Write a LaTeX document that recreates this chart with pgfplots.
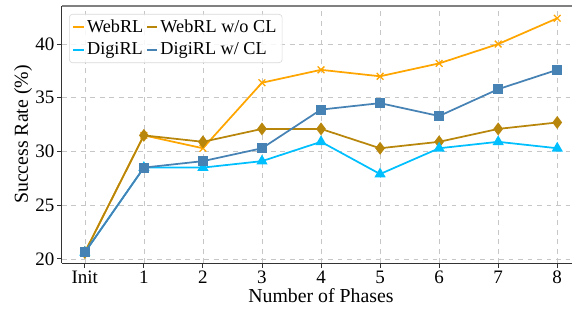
\documentclass[border=0pt]{standalone}
\usepackage{fontspec}
\setmainfont{Liberation Serif}
\usepackage{pgfplots}
\pgfplotsset{compat=1.18}
\definecolor{cWeb}{HTML}{FFA500}
\definecolor{cWebNo}{HTML}{B8860B}
\definecolor{cDigi}{HTML}{00BFFF}
\definecolor{cDigiCL}{HTML}{4682B4}
\begin{document}
\begin{tikzpicture}
\begin{axis}[
  scale only axis,
  width=322pt, height=162.5pt,
  xmin=-0.39, xmax=8.25,
  ymin=19.6, ymax=43.57,
  xtick={0,1,2,3,4,5,6,7,8},
  xticklabels={Init,1,2,3,4,5,6,7,8},
  ytick={20,25,30,35,40},
  /pgf/number format/assume math mode=true,
  tick label style={font=\fontsize{12}{14}\selectfont},
  xticklabel style={inner ysep=1.5pt},
  yticklabel style={inner xsep=1.5pt},
  label style={font=\fontsize{12.5}{14}\selectfont},
  xlabel={Number of Phases},
  ylabel={Success Rate (\%)},
  xlabel style={at={(rel axis cs:0.508,0)}, anchor=base, yshift=-25pt, inner sep=0pt},
  ylabel style={at={(rel axis cs:0,0.5)}, anchor=north, yshift=30.3pt, inner sep=0pt},
  axis x line=bottom, axis y line=left,
  axis line style={-, draw=black!80, line width=0.8pt},
  tick align=outside,
  major tick length=3pt,
  tick style={black!80, line width=0.6pt},
  grid=major,
  grid style={dashed, gray!45, line width=0.4pt},
  legend columns=2,
  legend cell align=left,
  legend style={at={(0.0143,0.968)}, anchor=north west, draw=black!15, fill=white, fill opacity=0.85, text opacity=1, rounded corners=2pt, font=\fontsize{11.5}{15}\selectfont, inner xsep=2pt, inner ysep=2.5pt, row sep=3pt, nodes={inner xsep=1.6pt, inner ysep=1pt}, /tikz/every even column/.append style={column sep=0pt}},
  legend image code/.code={\draw[#1, mark=none] (0cm,0cm) -- (6.5pt,0cm);},
  every axis plot/.append style={line width=1.1pt},
]
\addplot[color=cWeb, mark=x, mark size=3pt, mark options={line width=0.8pt}] coordinates {
(0,20.6) (1,31.5) (2,30.3) (3,36.4) (4,37.6) (5,37.0) (6,38.2) (7,40.0) (8,42.4)};
\addlegendentry{WebRL}
\addplot[color=cWebNo, mark=diamond*, mark size=3.2pt, mark options={solid}] coordinates {
(0,20.6) (1,31.5) (2,30.9) (3,32.1) (4,32.1) (5,30.3) (6,30.9) (7,32.1) (8,32.7)};
\addlegendentry{WebRL w/o CL}
\addplot[color=cDigi, mark=triangle*, mark size=3pt] coordinates {
(0,20.6) (1,28.5) (2,28.5) (3,29.1) (4,30.9) (5,27.9) (6,30.3) (7,30.9) (8,30.3)};
\addlegendentry{DigiRL}
\addplot[color=cDigiCL, mark=square*, mark size=2.6pt] coordinates {
(0,20.6) (1,28.5) (2,29.1) (3,30.3) (4,33.9) (5,34.5) (6,33.3) (7,35.8) (8,37.6)};
\addlegendentry{DigiRL w/ CL}
\draw[gray, line width=1.2pt] (rel axis cs:0,1) -- (rel axis cs:1,1);
\coordinate (bbtl) at ([shift={(-39pt,3.6pt)}]rel axis cs:0,1);
\coordinate (bbbr) at ([shift={(0pt,-33.2pt)}]rel axis cs:1,0);
\end{axis}
\pgfresetboundingbox
\path[use as bounding box] (bbtl) rectangle (bbbr);
\end{tikzpicture}
\end{document}
